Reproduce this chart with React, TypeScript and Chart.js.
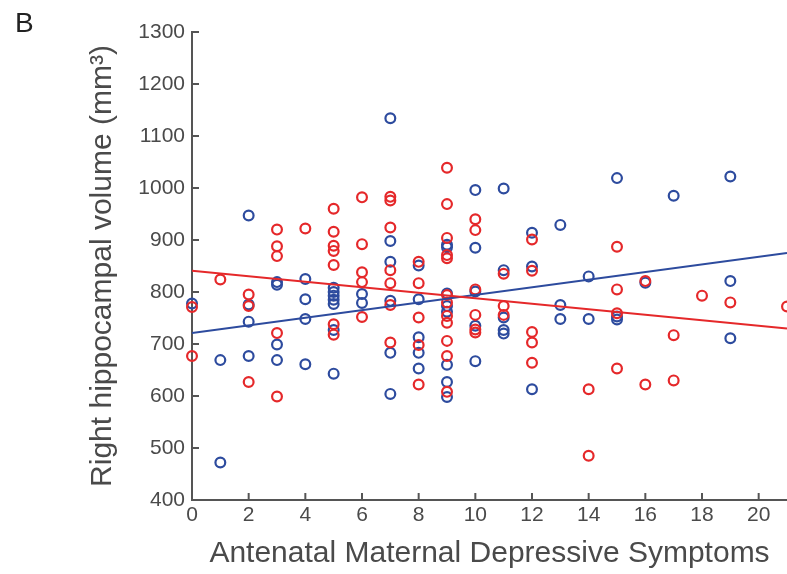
import React, { useEffect, useRef } from "react";
import { Chart, registerables } from "chart.js";

Chart.register(...registerables);

const FONT = "'Liberation Sans', Arial, Helvetica, sans-serif";
const TEXT = "#4a4a4a";
const AXIS = "#555555";
const BLUE = "#2d4b9e";
const RED = "#e5282a";

// Axis ticks
const xTickValues = [0, 2, 4, 6, 8, 10, 12, 14, 16, 18, 20];
const yTickValues = [400, 500, 600, 700, 800, 900, 1000, 1100, 1200, 1300];

// Blue group: depressive symptom score and right hippocampal volume
const blueScore = [
  0,
  1, 1,
  2, 2, 2, 2,
  3, 3, 3, 3,
  4, 4, 4, 4,
  5, 5, 5, 5, 5, 5, 5,
  6, 6,
  7, 7, 7, 7, 7, 7,
  8, 8, 8, 8, 8,
  9, 9, 9, 9, 9, 9, 9, 9,
  10, 10, 10, 10, 10,
  11, 11, 11, 11, 11,
  12, 12, 12,
  13, 13, 13,
  14, 14,
  15, 15, 15,
  16,
  17,
  19, 19, 19,
];
const blueVolume = [
  778,
  669, 472,
  947, 776, 743, 677,
  819, 814, 699, 669,
  825, 786, 748, 661,
  808, 800, 793, 785, 777, 727, 643,
  796, 779,
  1134, 898, 858, 783, 683, 604,
  851, 786, 713, 683, 653,
  891, 886, 797, 773, 762, 660, 627, 598,
  996, 885, 801, 735, 667,
  999, 842, 751, 727, 720,
  914, 849, 613,
  929, 775, 748,
  830, 748,
  1019, 753, 747,
  818,
  985,
  1022, 821, 711,
];

// Red group
const redScore = [
  0, 0,
  1,
  2, 2, 2,
  3, 3, 3, 3, 3,
  4,
  5, 5, 5, 5, 5, 5, 5,
  6, 6, 6, 6, 6,
  7, 7, 7, 7, 7, 7, 7,
  8, 8, 8, 8, 8,
  9, 9, 9, 9, 9, 9, 9, 9, 9, 9, 9, 9,
  10, 10, 10, 10, 10, 10,
  11, 11, 11,
  12, 12, 12, 12, 12,
  14, 14,
  15, 15, 15, 15,
  16, 16,
  17, 17,
  18,
  19,
  21,
];
const redVolume = [
  771, 677,
  824,
  795, 773, 627,
  920, 888, 869, 721, 599,
  922,
  960, 916, 889, 879, 852, 738, 718,
  982, 892, 838, 819, 752,
  983, 976, 924, 842, 817, 775, 703,
  858, 817, 751, 698, 622,
  1039, 969, 904, 871, 865, 794, 780, 754, 741, 706, 677, 608,
  940, 919, 805, 756, 728, 722,
  835, 773, 756,
  901, 841, 723, 703, 664,
  613, 485,
  887, 805, 759, 653,
  821, 622,
  717, 630,
  793,
  780,
  772,
];

// Fitted regression lines (endpoints)
const fitScore = [0, 21];
const blueFit = [721, 875];
const redFit = [841, 730];

const zip = (xs: number[], ys: number[]) => xs.map((x, i) => ({ x, y: ys[i] }));

const inwardTicks = {
  id: "inwardTicks",
  afterDatasetsDraw(chart: any) {
    const { ctx, chartArea, scales } = chart;
    const len = 7;
    ctx.save();
    ctx.strokeStyle = AXIS;
    ctx.lineWidth = 2;
    for (const v of xTickValues) {
      const px = scales.x.getPixelForValue(v);
      ctx.beginPath();
      ctx.moveTo(px, chartArea.bottom);
      ctx.lineTo(px, chartArea.bottom - len);
      ctx.stroke();
    }
    for (const v of yTickValues) {
      const py = scales.y.getPixelForValue(v);
      ctx.beginPath();
      ctx.moveTo(chartArea.left, py);
      ctx.lineTo(chartArea.left + len, py);
      ctx.stroke();
    }
    ctx.restore();
  },
};

export default function App() {
  const canvasRef = useRef<HTMLCanvasElement | null>(null);

  useEffect(() => {
    if (!canvasRef.current) return;
    const pointStyle = (color: string) => ({
      showLine: false,
      pointStyle: "circle" as const,
      pointRadius: 4.9,
      pointHoverRadius: 4.9,
      pointBorderWidth: 2.2,
      pointBorderColor: color,
      pointBackgroundColor: "rgba(255,255,255,0)",
      borderColor: color,
      backgroundColor: "rgba(255,255,255,0)",
      clip: false as any,
    });
    const chart = new Chart(canvasRef.current, {
      type: "scatter",
      data: {
        datasets: [
          {
            type: "line",
            label: "Red fit",
            data: zip(fitScore, redFit),
            borderColor: RED,
            borderWidth: 2,
            pointRadius: 0,
            fill: false,
          } as any,
          {
            type: "line",
            label: "Blue fit",
            data: zip(fitScore, blueFit),
            borderColor: BLUE,
            borderWidth: 2,
            pointRadius: 0,
            fill: false,
          } as any,
          { label: "Red", data: zip(redScore, redVolume), ...pointStyle(RED) },
          { label: "Blue", data: zip(blueScore, blueVolume), ...pointStyle(BLUE) },
        ],
      },
      options: {
        animation: false,
        responsive: false,
        maintainAspectRatio: false,
        layout: { autoPadding: false, padding: { top: 32, right: 0, left: 0, bottom: 0 } },
        plugins: {
          legend: { display: false },
          tooltip: { enabled: false },
        },
        scales: {
          x: {
            type: "linear",
            min: 0,
            max: 21,
            afterFit: (s: any) => {
              s.height = 74;
              s.paddingLeft = 0;
              s.paddingRight = 0;
            },
            afterBuildTicks: (s: any) => {
              s.ticks = xTickValues.map((v) => ({ value: v }));
            },
            ticks: {
              includeBounds: false,
              font: { family: FONT, size: 21 },
              color: TEXT,
              padding: 3,
              maxRotation: 0,
              autoSkip: false,
              callback: (v: any) => String(v),
            },
            grid: { display: false, drawTicks: false },
            border: { display: true, color: AXIS, width: 2 },
            title: {
              display: true,
              text: "Antenatal Maternal Depressive Symptoms",
              font: { family: FONT, size: 30 },
              color: TEXT,
              padding: { top: 0, bottom: 2 },
            },
          },
          y: {
            type: "linear",
            min: 400,
            max: 1300,
            afterFit: (s: any) => {
              s.width = 192;
              s.paddingTop = 0;
              s.paddingBottom = 0;
            },
            afterBuildTicks: (s: any) => {
              s.ticks = yTickValues.map((v) => ({ value: v }));
            },
            ticks: {
              font: { family: FONT, size: 21 },
              color: TEXT,
              padding: 7,
              autoSkip: false,
              callback: (v: any) => String(v),
            },
            grid: { display: false, drawTicks: false },
            border: { display: true, color: AXIS, width: 2 },
            title: {
              display: true,
              text: "Right hippocampal volume (mm³)",
              font: { family: FONT, size: 30 },
              color: TEXT,
              padding: { top: 85, bottom: 0 },
            },
          },
        },
      },
      plugins: [inwardTicks],
    });
    return () => chart.destroy();
  }, []);

  return (
    <div
      style={{
        position: "fixed",
        left: 0,
        top: 0,
        width: 787,
        height: 574,
        background: "#ffffff",
        overflow: "hidden",
      }}
    >
      <canvas ref={canvasRef} width={787} height={574} style={{ display: "block" }} />
      <div
        style={{
          position: "absolute",
          left: 15,
          top: 9,
          fontFamily: FONT,
          fontSize: 28,
          lineHeight: "28px",
          color: "#222222",
        }}
      >
        B
      </div>
    </div>
  );
}
